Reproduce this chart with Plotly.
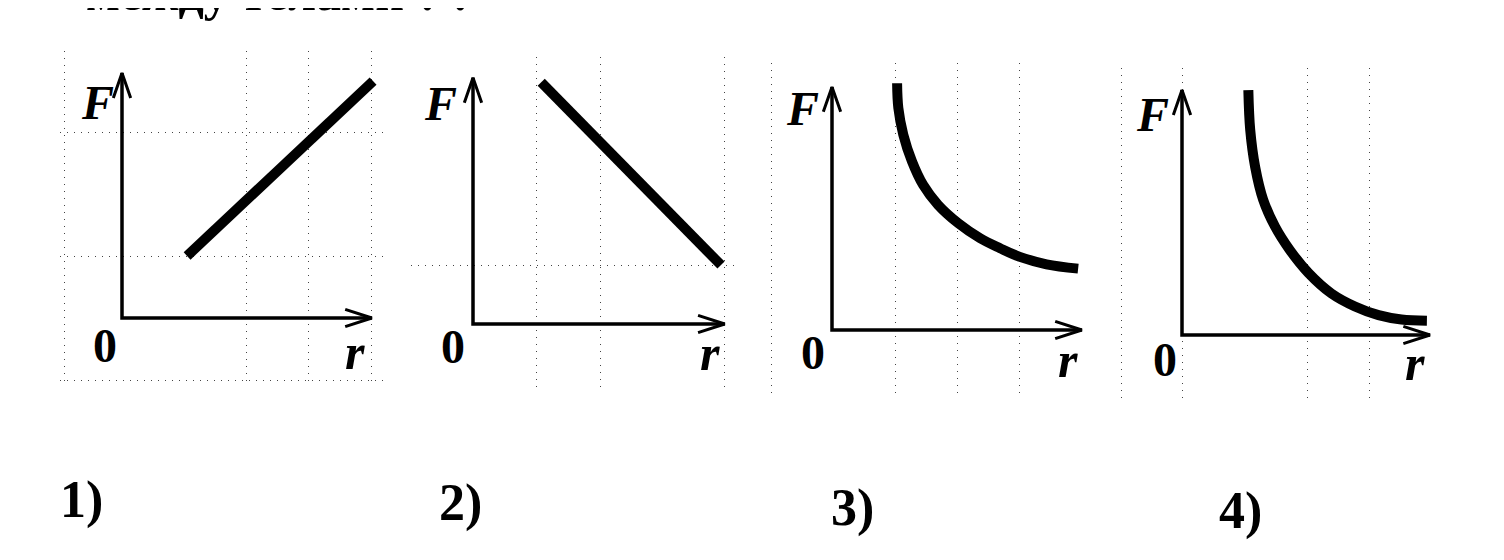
import plotly.graph_objects as go

# ---------------- data (grid units) ----------------
p1_r = [1.05, 4.05]
p1_F = [1.00, 3.82]

p2_r = [1.10, 4.00]
p2_F = [3.90, 0.95]

p3_r = [1.05, 1.07, 1.15, 1.29, 1.47, 1.71, 2.04, 2.39, 2.71, 3.03, 3.46, 3.97]
p3_F = [3.98, 3.58, 3.15, 2.72, 2.34, 2.02, 1.72, 1.48, 1.32, 1.18, 1.06, 0.99]

p4_r = [1.07, 1.10, 1.18, 1.31, 1.50, 1.74, 2.04, 2.41, 2.79, 3.17, 3.54, 3.95]
p4_F = [3.95, 3.31, 2.71, 2.18, 1.75, 1.37, 1.00, 0.67, 0.46, 0.32, 0.25, 0.23]

panel_labels = ["1)", "2)", "3)", "4)"]
axis_x_len = [4.03, 4.06, 4.03, 4.00]
axis_y_len = [3.95, 3.97, 3.92, 3.95]
grid_x = [[-0.92, 2, 3, 4.03], [1.03, 2.05, 4.06], [-0.97, 1.02, 2.02, 3.03], [-0.97, 0, 2.03, 3.03]]
grid_y = [[-1.0, 1.0, 3.0], [0.95], [], []]
top_text = "между телами ? ."

# ---------------- layout geometry (pixels) ----------------
W, H = 1504, 560
PAGE = 8          # browser's default body margin
UNIT = 62
origins = [(122, 318), (473, 324), (832, 330), (1182, 335)]
XR = (-1.0, 4.3)
YR = (-1.05, 4.3)
label_pos_px = [(81, 500), (460, 503), (852, 508), (1240, 511)]
F_pos = [(-0.40, 3.48), (-0.53, 3.56), (-0.48, 3.58), (-0.48, 3.55)]
O_pos = [(-0.27, -0.44), (-0.32, -0.37), (-0.31, -0.37), (-0.27, -0.40)]
R_pos = [(3.76, -0.55), (3.82, -0.47), (3.81, -0.48), (3.76, -0.45)]

curves = [(p1_r, p1_F, "linear"), (p2_r, p2_F, "linear"),
          (p3_r, p3_F, "spline"), (p4_r, p4_F, "spline")]


def px2x(px):
    return (px - PAGE) / W


def px2y(py):
    return 1 - (py - PAGE) / H


fig = go.Figure()
layout = dict(width=W, height=H, margin=dict(l=0, r=0, t=0, b=0),
              paper_bgcolor="white", plot_bgcolor="white", showlegend=False)
annotations = []

serif = "Liberation Serif, Times New Roman, serif"

for i in range(4):
    ox, oy = origins[i]
    xs = "" if i == 0 else str(i + 1)
    xa, ya = "x" + xs, "y" + xs
    xd = [px2x(ox + XR[0] * UNIT), px2x(ox + XR[1] * UNIT)]
    yd = [px2y(oy - YR[0] * UNIT), px2y(oy - YR[1] * UNIT)]
    gridstyle = dict(showgrid=True, gridcolor="#444", gridwidth=1, griddash="1px,6px",
                     showticklabels=False, ticks="", zeroline=False, showline=False, fixedrange=True)
    layout["xaxis" + xs] = dict(domain=xd, range=list(XR), anchor=ya, tickvals=grid_x[i], **gridstyle)
    layout["yaxis" + xs] = dict(domain=yd, range=list(YR), anchor=xa,
                                tickvals=grid_y[i] if grid_y[i] else [-99], **gridstyle)

    xl, yl = axis_x_len[i], axis_y_len[i]
    # axes
    fig.add_trace(go.Scatter(x=[0, 0, xl], y=[yl, 0, 0], mode="lines",
                             line=dict(color="black", width=3.5), xaxis=xa, yaxis=ya,
                             cliponaxis=False, hoverinfo="skip"))
    # arrow heads (open V)
    fig.add_trace(go.Scatter(x=[-0.14, 0, 0.14, None, xl - 0.43, xl, xl - 0.43],
                             y=[yl - 0.40, yl, yl - 0.40, None, 0.14, 0, -0.14],
                             mode="lines", line=dict(color="black", width=3),
                             xaxis=xa, yaxis=ya, cliponaxis=False, hoverinfo="skip"))
    # curve
    cx, cy, shp = curves[i]
    fig.add_trace(go.Scatter(x=cx, y=cy, mode="lines",
                             line=dict(color="black", width=10, shape=shp, smoothing=1.0),
                             xaxis=xa, yaxis=ya, cliponaxis=False, hoverinfo="skip"))
    # axis labels
    annotations.append(dict(x=F_pos[i][0], y=F_pos[i][1], xref=xa, yref=ya, text="<i><b>F</b></i>",
                            xanchor="center", yanchor="middle",
                            showarrow=False, font=dict(family=serif, size=48, color="black")))
    annotations.append(dict(x=O_pos[i][0], y=O_pos[i][1], xref=xa, yref=ya, text="<b>0</b>",
                            xanchor="center", yanchor="middle",
                            showarrow=False, font=dict(family=serif, size=48, color="black")))
    annotations.append(dict(x=R_pos[i][0], y=R_pos[i][1], xref=xa, yref=ya, text="<i><b>r</b></i>",
                            xanchor="center", yanchor="middle",
                            showarrow=False, font=dict(family=serif, size=50, color="black")))
    # panel number
    lx, ly = label_pos_px[i]
    annotations.append(dict(x=px2x(lx), y=px2y(ly), xref="paper", yref="paper",
                            xanchor="center", yanchor="middle",
                            text="<b>" + panel_labels[i] + "</b>", showarrow=False,
                            font=dict(family=serif, size=52, color="black")))

# clipped remains of the question text at the very top
annotations.append(dict(x=px2x(84), y=px2y(-7), xref="paper", yref="paper", xanchor="left",
                        yanchor="middle", text="<b>" + top_text + "</b>", showarrow=False,
                        font=dict(family=serif, size=50, color="black")))

layout["annotations"] = annotations
fig.update_layout(**layout)
fig.write_html("out.html")
